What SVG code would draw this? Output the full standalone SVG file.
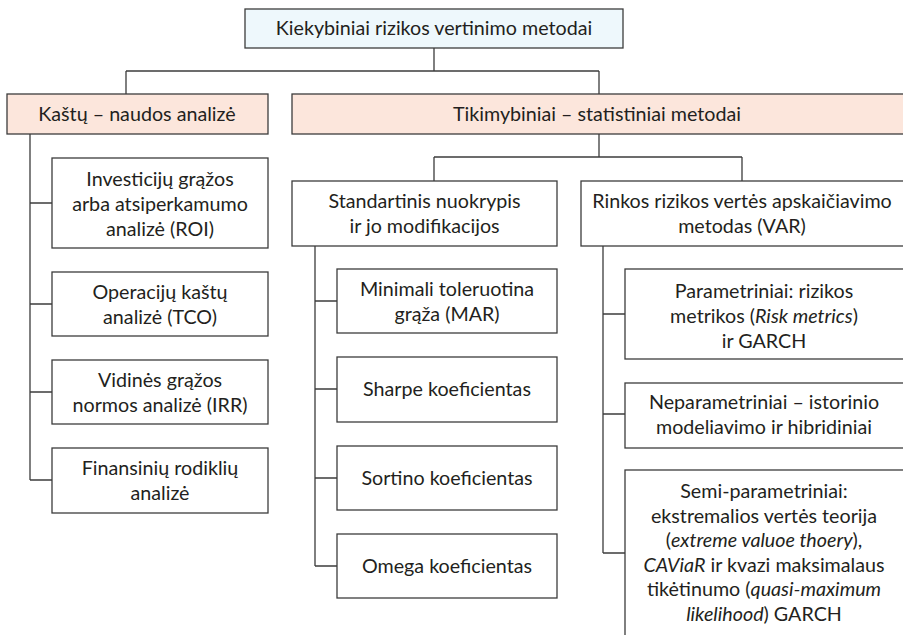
<svg xmlns="http://www.w3.org/2000/svg" width="903" height="635" viewBox="0 0 903 635">
  <style>
    .box { fill: #ffffff; stroke: #3c3c3c; stroke-width: 1.3; }
    .root { fill: #eef8fc; }
    .cat { fill: #fce6dc; }
    .lbl { font-family: Lato, "Open Sans", sans-serif; font-size: 19.7px; fill: #231f20; text-anchor: middle; }
    .it { font-style: italic; }
    .wire { fill: none; stroke: #3c3c3c; stroke-width: 1.3; }
  </style>
  <rect width="903" height="635" fill="#ffffff"/>

  <!-- connectors -->
  <g id="connectors" class="wire">
    <path d="M434,48 V71 M126,71 H599 M126,71 V94 M599,71 V94"/>
    <path d="M30,134 V480 M30,203 H52 M30,304 H52 M30,392 H52 M30,480 H52"/>
    <path d="M599,134 V157 M434,157 H742 M434,157 V181 M742,157 V181"/>
    <path d="M315,246 V566 M315,301 H337 M315,389 H337 M315,478 H337 M315,566 H337"/>
    <path d="M603,246 V553 M603,314 H625 M603,414 H625 M603,553 H625"/>
  </g>

  <!-- root -->
  <g id="root">
    <rect class="box root" x="245" y="9" width="378" height="39"/>
    <text class="lbl" x="434" y="35">Kiekybiniai rizikos vertinimo metodai</text>
  </g>

  <!-- level 1 -->
  <g id="cost-benefit">
    <rect class="box cat" x="7" y="94" width="261" height="40"/>
    <text class="lbl" x="137" y="121">Kaštų – naudos analizė</text>
  </g>
  <g id="probabilistic">
    <rect class="box cat" x="292" y="94" width="620" height="40"/>
    <text class="lbl" x="597" y="121">Tikimybiniai – statistiniai metodai</text>
  </g>

  <!-- cost-benefit children -->
  <g id="roi">
    <rect class="box" x="52" y="158" width="216" height="90"/>
    <text class="lbl" x="160" y="186">Investicijų grąžos</text>
    <text class="lbl" x="160" y="211">arba atsiperkamumo</text>
    <text class="lbl" x="160" y="236">analizė (ROI)</text>
  </g>
  <g id="tco">
    <rect class="box" x="52" y="272" width="216" height="64"/>
    <text class="lbl" x="160" y="298.5">Operacijų kaštų</text>
    <text class="lbl" x="160" y="323.5">analizė (TCO)</text>
  </g>
  <g id="irr">
    <rect class="box" x="52" y="360" width="216" height="64"/>
    <text class="lbl" x="160" y="386.5">Vidinės grąžos</text>
    <text class="lbl" x="160" y="411.5">normos analizė (IRR)</text>
  </g>
  <g id="ratios">
    <rect class="box" x="52" y="448" width="216" height="65"/>
    <text class="lbl" x="160" y="475">Finansinių rodiklių</text>
    <text class="lbl" x="160" y="500">analizė</text>
  </g>

  <!-- level 2 -->
  <g id="std-dev">
    <rect class="box" x="292" y="181" width="265" height="65"/>
    <text class="lbl" x="424.5" y="207.5">Standartinis nuokrypis</text>
    <text class="lbl" x="424.5" y="232.5">ir jo modifikacijos</text>
  </g>
  <g id="var">
    <rect class="box" x="581" y="181" width="330" height="65"/>
    <text class="lbl" x="742" y="207.5">Rinkos rizikos vertės apskaičiavimo</text>
    <text class="lbl" x="742" y="232.5">metodas (VAR)</text>
  </g>

  <!-- standard deviation children -->
  <g id="mar">
    <rect class="box" x="337" y="269" width="220" height="64"/>
    <text class="lbl" x="447" y="295.5">Minimali toleruotina</text>
    <text class="lbl" x="447" y="320.5">grąža (MAR)</text>
  </g>
  <g id="sharpe">
    <rect class="box" x="337" y="357" width="220" height="65"/>
    <text class="lbl" x="447" y="396">Sharpe koeficientas</text>
  </g>
  <g id="sortino">
    <rect class="box" x="337" y="446" width="220" height="64"/>
    <text class="lbl" x="447" y="485">Sortino koeficientas</text>
  </g>
  <g id="omega">
    <rect class="box" x="337" y="534" width="220" height="64"/>
    <text class="lbl" x="447" y="573">Omega koeficientas</text>
  </g>

  <!-- VAR children -->
  <g id="parametric">
    <rect class="box" x="625" y="269" width="290" height="90"/>
    <text class="lbl" x="764" y="297.5">Parametriniai: rizikos</text>
    <text class="lbl" x="764" y="322.5">metrikos (<tspan class="it">Risk metrics</tspan>)</text>
    <text class="lbl" x="764" y="347.5">ir GARCH</text>
  </g>
  <g id="nonparametric">
    <rect class="box" x="625" y="383" width="290" height="65"/>
    <text class="lbl" x="764" y="408.5">Neparametriniai – istorinio</text>
    <text class="lbl" x="764" y="433.5">modeliavimo ir hibridiniai</text>
  </g>
  <g id="semiparametric">
    <rect class="box" x="625" y="470" width="290" height="180"/>
    <text class="lbl" x="764" y="498">Semi-parametriniai:</text>
    <text class="lbl" x="764" y="522.6">ekstremalios vertės teorija</text>
    <text class="lbl" x="764" y="547.2">(<tspan class="it">extreme valuoe thoery</tspan>),</text>
    <text class="lbl" x="764" y="571.8"><tspan class="it">CAViaR</tspan> ir kvazi maksimalaus</text>
    <text class="lbl" x="764" y="596.4">tikėtinumo (<tspan class="it">quasi-maximum</tspan></text>
    <text class="lbl" x="764" y="621"><tspan class="it">likelihood</tspan>) GARCH</text>
  </g>
</svg>
